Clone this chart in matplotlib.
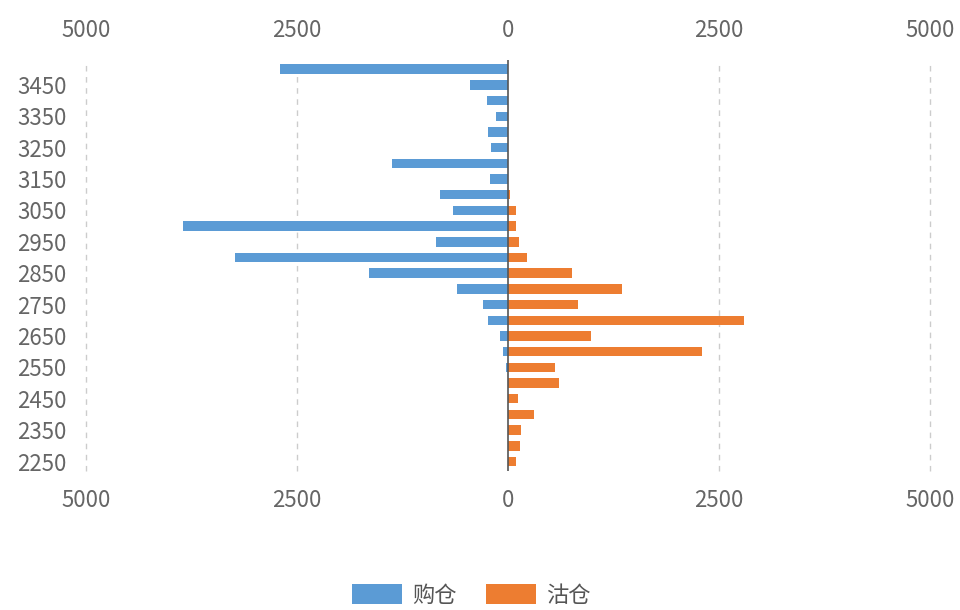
import matplotlib.pyplot as plt
import numpy as np
from matplotlib.legend_handler import HandlerPatch
from matplotlib.patches import FancyBboxPatch

plt.rcParams['font.family'] = ['Noto Sans CJK SC', 'DejaVu Sans']

# strike levels, bottom to top
strikes = [2250, 2300, 2350, 2400, 2450, 2500, 2550, 2600, 2650, 2700, 2750, 2800, 2850,
           2900, 2950, 3000, 3050, 3100, 3150, 3200, 3250, 3300, 3350, 3400, 3450, 3500]
# 购仓 (shown to the left)
buy = [0, 0, 0, 0, 0, 0, 20, 60, 90, 235, 290, 600, 1645,
       3230, 855, 3850, 650, 805, 215, 1370, 205, 240, 145, 250, 450, 2700]
# 沽仓 (shown to the right)
sell = [100, 140, 150, 305, 115, 605, 555, 2295, 980, 2795, 830, 1355, 755,
        230, 130, 100, 90, 30, 0, 0, 0, 0, 0, 0, 0, 0]
xticks = [-5000, -2500, 0, 2500, 5000]
xticklabels = ['5000', '2500', '0', '2500', '5000']

blue = '#5B9BD5'
orange = '#ED7D31'
txt = '#666666'


class RoundHandler(HandlerPatch):
    def create_artists(self, legend, orig, xd, yd, w, h, fs, trans):
        p = FancyBboxPatch((-xd, -yd - 2), w, h + 4,
                           boxstyle='round,pad=0,rounding_size=%f' % (h * 0.4),
                           facecolor=orig.get_facecolor(), edgecolor='none', transform=trans)
        return [p]


fig = plt.figure(figsize=(9.6, 6.1), dpi=100)
ax = fig.add_axes([0.0896, 0.228, 0.879, 0.674])

y = np.arange(len(strikes))
b1 = ax.barh(y, -np.array(buy), height=0.6, color=blue, label='购仓', zorder=3)
b2 = ax.barh(y, sell, height=0.6, color=orange, label='沽仓', zorder=3)

ax.set_xlim(-5000, 5000)
ax.set_ylim(-0.6, len(strikes) - 0.4)

for xv in xticks:
    if xv == 0:
        ax.axvline(0, color='#555555', lw=1.2, zorder=4)
    else:
        ax.axvline(xv, color='#cccccc', lw=1, ls=(0, (4, 4)), zorder=1, clip_on=False)

ax.set_xticks(xticks)
ax.set_xticklabels(xticklabels)
ax.tick_params(axis='x', top=True, labeltop=True, bottom=True, labelbottom=True,
               length=0, pad=13, labelsize=16, labelcolor=txt)
ax.set_yticks(y[::2])
ax.set_yticklabels([str(s) for s in strikes[::2]])
ax.tick_params(axis='y', length=0, pad=14, labelsize=16, labelcolor=txt)

for s in ax.spines.values():
    s.set_visible(False)

leg = fig.legend(handles=[b1, b2], loc='center', bbox_to_anchor=(0.491, 0.024), ncol=2,
                 frameon=False, fontsize=16, handlelength=2.25, handleheight=1.0,
                 columnspacing=1.3, handletextpad=0.45,
                 handler_map={type(b1[0]): RoundHandler()})
for t in leg.get_texts():
    t.set_color('#555555')

fig.savefig('out.png', dpi=100)
